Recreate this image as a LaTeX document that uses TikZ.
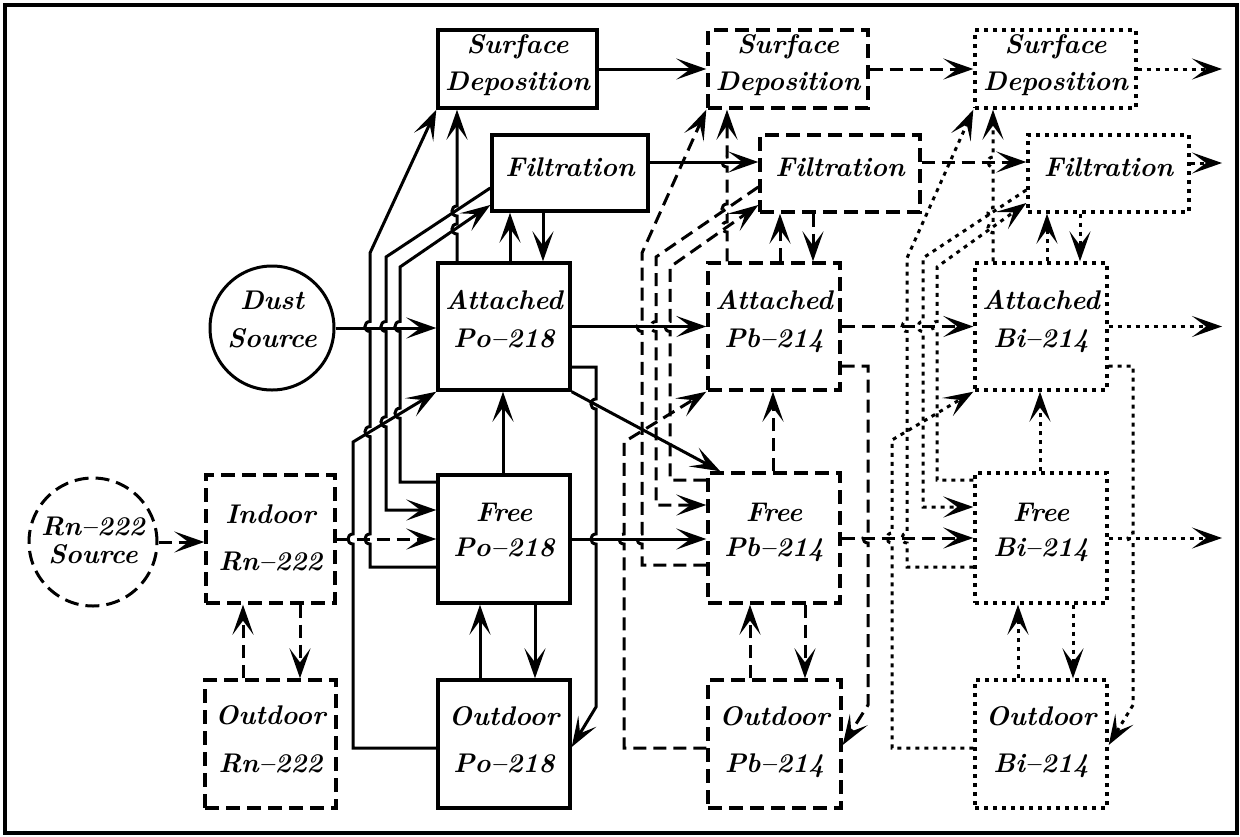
\documentclass[tikz,border=0pt]{standalone}
\usepackage{fontspec}
\usetikzlibrary{arrows.meta}
\tikzset{
  lw/.style={line width=3pt},
  sl/.style={lw},
  dl/.style={lw, dash pattern=on 13pt off 7pt},
  ol/.style={lw, dash pattern=on 4pt off 5pt},
  arr/.style={-{Stealth[length=30pt,width=21pt,inset=14pt]}},
  bx/.style={rectangle, inner sep=0pt, line width=3.4pt},
  sbox/.style={bx, draw},
  dbox/.style={bx, draw, dash pattern=on 14pt off 7pt},
  obox/.style={bx, draw, dash pattern=on 4pt off 5pt},
  lbl/.style={anchor=base, inner sep=0pt, font=\fontsize{27}{30}\selectfont\bfseries\itshape},
  hopu/.style={insert path={.. controls +(-6.7,0) and +(-6.7,0) .. ++(0,-10)}},
  hopd/.style={insert path={.. controls +(-6.7,0) and +(-6.7,0) .. ++(0,10)}},
}
\newcommand{\twotext}[6]{%
  \node[lbl] (#1-1) at (#2,#3) {#5};
  \node[lbl] (#1-2) at (#2,#4) {#6};}
\begin{document}
\begin{tikzpicture}[x=1pt,y=-1pt]
\useasboundingbox (0,0) rectangle (1240,836);
\draw[line width=4.5pt] (5,5) rectangle (1237,833);

% ---------- boxes ----------
\node[sbox, minimum width=159pt, minimum height=78pt] (sd1) at (517.5,69) {};
\node[dbox, minimum width=160pt, minimum height=78pt] (sd2) at (788,69) {};
\node[obox, minimum width=161pt, minimum height=78pt] (sd3) at (1055.5,69) {};
\node[sbox, minimum width=156pt, minimum height=76pt] (f1) at (570,173) {};
\node[dbox, minimum width=160pt, minimum height=77pt] (f2) at (840,173.5) {};
\node[obox, minimum width=161pt, minimum height=77pt] (f3) at (1108.5,173.5) {};
\node[sbox, minimum width=132pt, minimum height=127pt] (ap) at (504,326.5) {};
\node[dbox, minimum width=132pt, minimum height=127pt] (apb) at (774,326.5) {};
\node[obox, minimum width=132pt, minimum height=127pt] (abi) at (1041,326.5) {};
\node[sbox, minimum width=132pt, minimum height=128pt] (fp) at (504,539) {};
\node[dbox, minimum width=132pt, minimum height=130pt] (fpb) at (774,538) {};
\node[obox, minimum width=132pt, minimum height=130pt] (fbi) at (1041,538) {};
\node[sbox, minimum width=132pt, minimum height=128pt] (op) at (504,744) {};
\node[dbox, minimum width=133pt, minimum height=128pt] (opb) at (774.5,744) {};
\node[obox, minimum width=132pt, minimum height=128pt] (obi) at (1041,744) {};
\node[dbox, minimum width=129pt, minimum height=128pt] (ir) at (270.5,539) {};
\node[dbox, minimum width=131pt, minimum height=128pt] (or) at (270.5,744) {};
\node[circle, draw, line width=3pt, inner sep=0pt, minimum size=124pt] (dust) at (272,328) {};
\node[circle, draw, line width=3pt, inner sep=0pt, minimum size=128pt, dash pattern=on 14pt off 7pt] (rn) at (93,542) {};

% ---------- texts ----------
\twotext{sd1t}{517.5}{53}{90}{Surface}{Deposition}
\twotext{sd2t}{788}{53}{90}{Surface}{Deposition}
\twotext{sd3t}{1055.5}{53}{90}{Surface}{Deposition}
\node[lbl] (f1t) at (570,176) {Filtration};
\node[lbl] (f2t) at (840,176) {Filtration};
\node[lbl] (f3t) at (1108.5,176) {Filtration};
\twotext{apt}{504}{309}{347}{Attached}{Po--218}
\twotext{apbt}{774}{309}{347}{Attached}{Pb--214}
\twotext{abit}{1041}{309}{347}{Attached}{Bi--214}
\twotext{fpt}{504}{521}{556}{Free}{Po--218}
\twotext{fpbt}{774}{521}{556}{Free}{Pb--214}
\twotext{fbit}{1041}{521}{556}{Free}{Bi--214}
\twotext{opt}{504}{725}{772}{Outdoor}{Po--218}
\twotext{opbt}{774.5}{725}{772}{Outdoor}{Pb--214}
\twotext{obit}{1041}{725}{772}{Outdoor}{Bi--214}
\twotext{irt}{270.5}{523}{570}{Indoor}{Rn--222}
\twotext{ort}{270.5}{724}{772}{Outdoor}{Rn--222}
\twotext{dustt}{272}{309}{347}{Dust}{Source}
\twotext{rnt}{93}{535}{563}{Rn--222}{Source}

% ---------- free ends ----------
\coordinate (o1) at (1222,69);
\coordinate (o2) at (1222,163);
\coordinate (o3) at (1222,326.5);
\coordinate (o4) at (1222,538);

% ---------- column 1 (solid) ----------
\draw[sl,arr] (op.west |- 0,748) -- (353,748) -- (353,544) [hopu] -- (353,442) -- (ap.south west);
\draw[sl,arr] (fp.west |- 0,567) -- (370,567) -- (370,544) [hopu] -- (370,436.6) [hopu] -- (370,331.5) [hopu] -- (370,253) -- (sd1.south west);
\draw[sl,arr] (f1.west |- 0,188) -- (386,257) -- (386,321.5) [hopd] -- (386,416.8) [hopd] -- (386,510) -- (fp.west |- 0,510);
\draw[sl,arr] (fp.west |- 0,482) -- (400,482) -- (400,418.2) [hopu] -- (400,331.5) [hopu] -- (400,267) -- (f1.west |- 0,205);
\draw[sl,arr] (ap.north -| 457,0) -- (457,234) [hopu] -- (457,216) [hopu] -- (sd1.south -| 457,0);
\draw[sl,arr] (ap.north -| 510,0) -- (f1.south -| 510,0);
\draw[sl,arr] (f1.south -| 543,0) -- (ap.north -| 543,0);
\draw[sl,arr] (fp.north -| 503,0) -- (ap.south -| 503,0);
\draw[sl,arr] (op.north -| 480,0) -- (fp.south -| 480,0);
\draw[sl,arr] (fp.south -| 535,0) -- (op.north -| 535,0);
\draw[sl,arr] (ap.east |- 0,367) -- (596,367) -- (596,399) [hopd] -- (596,534) [hopd] -- (596,707) -- (op.east |- 0,747);
\draw[sl,arr] (ap.south east) -- ([xshift=14pt]fpb.north west);
\draw[sl,arr] (dust.east) -- (ap.west |- dust.east);
\draw[dl,arr] (rn.east) -- (ir.west |- rn.east);
\draw[dl,arr] (ir.east) -- (fp.west |- ir.east);
\draw[dl,arr] (or.north -| 243,0) -- (ir.south -| 243,0);
\draw[dl,arr] (ir.south -| 300,0) -- (or.north -| 300,0);
\draw[sl,arr] (ap.east) -- (apb.west);
\draw[sl,arr] (fp.east) -- (fpb.west |- fp.east);
\draw[sl,arr] (sd1.east) -- (sd2.west);
\draw[sl,arr] (f1.east |- 0,162) -- (f2.west |- 0,162);

% ---------- column 2 (dashed) ----------
\draw[dl,arr] (opb.west |- 0,748) -- (624,748) -- (624,544) [hopu] -- (624,442) -- (apb.south west);
\draw[dl,arr] (fpb.west |- 0,565) -- (642,565) -- (642,544) [hopu] -- (642,331.5) [hopu] -- (642,253) -- (sd2.south west);
\draw[dl,arr] (f2.west |- 0,187) -- (656,257) -- (656,321.5) [hopd] -- (656,505) -- (fpb.west |- 0,505);
\draw[dl,arr] (fpb.west |- 0,480) -- (670,480) -- (670,331.5) [hopu] -- (670,267) -- (f2.west |- 0,205);
\draw[dl,arr] (apb.north -| 727,0) -- (727,232) [hopu] -- (727,214) [hopu] -- (727,167) [hopu] -- (sd2.south -| 727,0);
\draw[dl,arr] (apb.north -| 780,0) -- (f2.south -| 780,0);
\draw[dl,arr] (f2.south -| 813,0) -- (apb.north -| 813,0);
\draw[dl,arr] (fpb.north -| 773,0) -- (apb.south -| 773,0);
\draw[dl,arr] (opb.north -| 750,0) -- (fpb.south -| 750,0);
\draw[dl,arr] (fpb.south -| 805,0) -- (opb.north -| 805,0);
\draw[dl,arr] (apb.east |- 0,366) -- (868,366) -- (868,533) [hopd] -- (868,705) -- (opb.east |- 0,745);
\draw[dl,arr] (apb.east) -- (abi.west);
\draw[dl,arr] (fpb.east) -- (fbi.west);
\draw[dl,arr] (sd2.east) -- (sd3.west);
\draw[dl,arr] (f2.east |- 0,162) -- (f3.west |- 0,162);

% ---------- column 3 (dotted) ----------
\draw[ol,arr] (obi.west |- 0,748) -- (892,748) -- (892,543) [hopu] -- (892,440) -- (abi.south west);
\draw[ol,arr] (fbi.west |- 0,567) -- (907,567) -- (907,543) [hopu] -- (907,331.5) [hopu] -- (907,258) -- (sd3.south west);
\draw[ol,arr] (f3.west |- 0,190) -- (923,258) -- (923,321.5) [hopd] -- (923,507) -- (fbi.west |- 0,507);
\draw[ol,arr] (fbi.west |- 0,480) -- (937,480) -- (937,331.5) [hopu] -- (937,267) -- (f3.west |- 0,203);
\draw[ol,arr] (abi.north -| 993,0) -- (993,232.6) [hopu] -- (993,217.7) [hopu] -- (993,167) [hopu] -- (sd3.south -| 993,0);
\draw[ol,arr] (abi.north -| 1047,0) -- (f3.south -| 1047,0);
\draw[ol,arr] (f3.south -| 1080,0) -- (abi.north -| 1080,0);
\draw[ol,arr] (fbi.north -| 1040,0) -- (abi.south -| 1040,0);
\draw[ol,arr] (obi.north -| 1018,0) -- (fbi.south -| 1018,0);
\draw[ol,arr] (fbi.south -| 1073,0) -- (obi.north -| 1073,0);
\draw[ol,arr] (abi.east |- 0,366) -- (1133,366) -- (1133,533) [hopd] -- (1133,705) -- (obi.east |- 0,745);
\draw[ol,arr] (abi.east) -- (o3);
\draw[ol,arr] (fbi.east) -- (o4);
\draw[ol,arr] (sd3.east) -- (o1);
\draw[ol,arr] (f3.east |- o2) -- (o2);
\end{tikzpicture}
\end{document}
